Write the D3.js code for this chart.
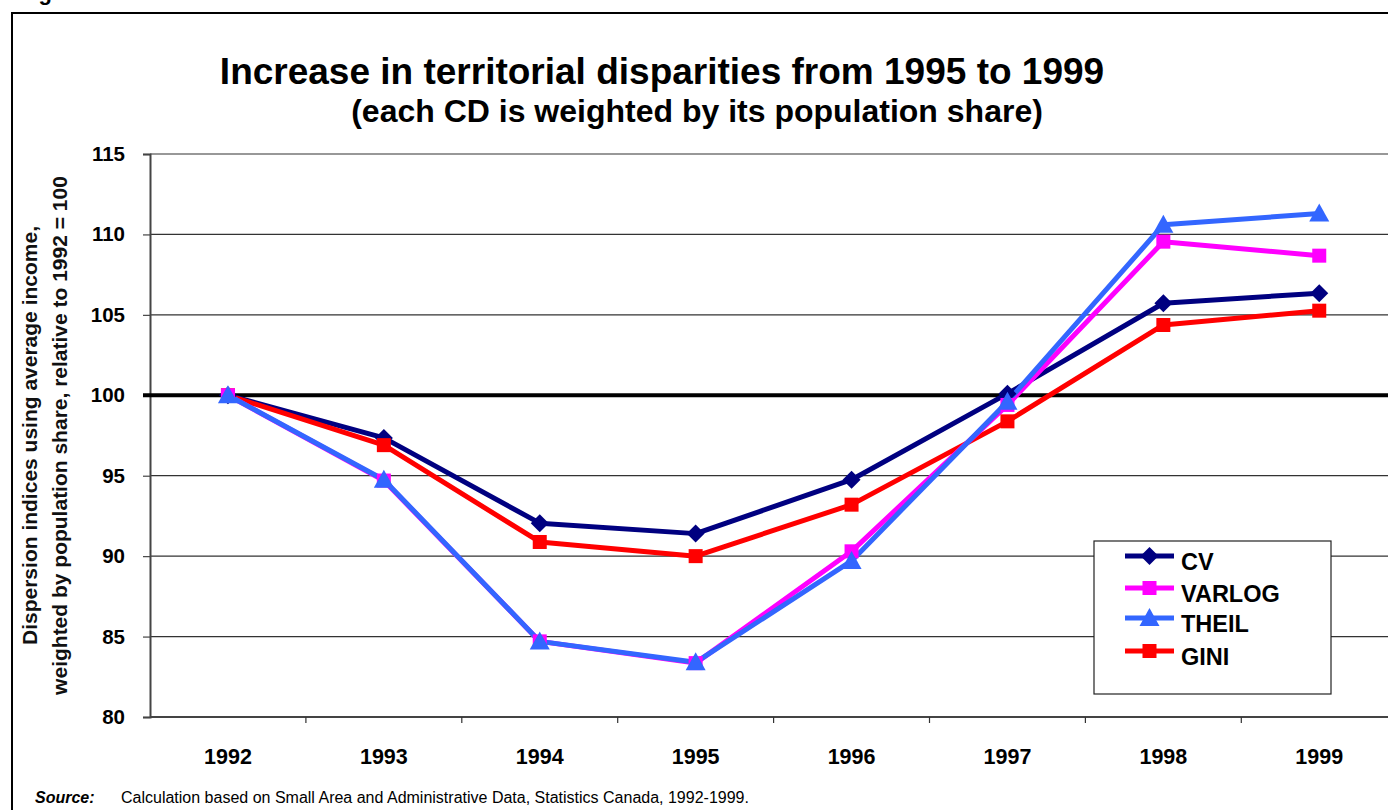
<!DOCTYPE html>
<html><head><meta charset="utf-8">
<script src="https://cdn.jsdelivr.net/npm/d3@7"></script>
<style>body{margin:0;background:#fff}svg{display:block;font-family:"Liberation Sans",Arial,sans-serif}</style>
</head><body>
<svg id="c" width="1388" height="810"></svg>
<script>
const years = ["1992","1993","1994","1995","1996","1997","1998","1999"];
const cv     = [100, 97.35, 92.05, 91.4, 94.75, 100.1, 105.72, 106.35];
const varlog = [100, 94.7, 84.7, 83.35, 90.3, 99.4, 109.55, 108.68];
const theil  = [100, 94.75, 84.7, 83.4, 89.7, 99.6, 110.6, 111.3];
const gini   = [100, 96.9, 90.88, 90.0, 93.2, 98.38, 104.37, 105.26];
const yTicks = [80, 85, 90, 95, 100, 105, 110, 115];
const seriesNames = ["CV","VARLOG","THEIL","GINI"];

const series = [
  {name:"CV", values:cv, color:"#000080", shape:"diamond"},
  {name:"VARLOG", values:varlog, color:"#FF00FF", shape:"square"},
  {name:"THEIL", values:theil, color:"#3366FF", shape:"triangle"},
  {name:"GINI", values:gini, color:"#FF0000", shape:"square"}
];

const svg = d3.select("#c");
const L = 150, T = 154, B = 717, R = 150 + 8*155.9;
const x = d3.scaleBand().domain(years).range([L, R]);
const y = d3.scaleLinear().domain([80, 115]).range([B, T]);

// outer frame
svg.append("path").attr("d","M12,830 V13 H1400").attr("fill","none").attr("stroke","#000").attr("stroke-width",2);
svg.append("text").attr("x",19).attr("y",-0.3).attr("font-size",22).attr("font-weight","bold").text("Fig");

// title
svg.append("text").attr("x",662).attr("y",84).attr("text-anchor","middle").attr("font-size",37).attr("font-weight","bold").text("Increase in territorial disparities from 1995 to 1999");
svg.append("text").attr("x",697).attr("y",122).attr("text-anchor","middle").attr("font-size",32).attr("font-weight","bold").text("(each CD is weighted by its population share)");

// gridlines
const g = svg.append("g");
yTicks.filter(v => v!==80 && v!==100).forEach(v=>{
  g.append("line").attr("x1",L).attr("x2",1388).attr("y1",y(v)).attr("y2",y(v)).attr("stroke","#333").attr("stroke-width",1.2);
});

// y axis
const yAxis = d3.axisLeft(y).tickValues(yTicks).tickSize(7).tickPadding(18).tickFormat(d3.format("d"));
const ya = svg.append("g").attr("transform",`translate(${L},0)`).call(yAxis);
ya.select(".domain").attr("stroke","#444").attr("stroke-width",2);
ya.selectAll(".tick line").attr("stroke","#444").attr("stroke-width",1.2);
ya.selectAll("text").attr("font-size",20.5).attr("font-weight","bold").attr("fill","#000").attr("font-family","Liberation Sans, Arial, sans-serif");

// x axis
const xa = svg.append("g").attr("transform",`translate(0,${B})`).call(d3.axisBottom(x).tickSize(0).tickPadding(28));
xa.select(".domain").attr("stroke","#444").attr("stroke-width",2).attr("d",`M${L},0H1388`);
xa.selectAll("text").attr("font-size",21.5).attr("font-weight","bold").attr("fill","#000").attr("font-family","Liberation Sans, Arial, sans-serif").attr("y",47).attr("dy",0);
years.slice(1).forEach(yr=>{
  svg.append("line").attr("x1",x(yr)).attr("x2",x(yr)).attr("y1",B).attr("y2",B+6).attr("stroke","#333").attr("stroke-width",1.2);
});

// 100 baseline
svg.append("line").attr("x1",L-7).attr("x2",1388).attr("y1",y(100)).attr("y2",y(100)).attr("stroke","#000").attr("stroke-width",4);

// y label
const yl = svg.append("text").attr("transform",`translate(0,${(T+B)/2}) rotate(-90)`).attr("text-anchor","middle").attr("font-size",21).attr("font-weight","bold").attr("fill","#111");
yl.append("tspan").attr("x",0).attr("y",37).text("Dispersion indices using average income,");
yl.append("tspan").attr("x",0).attr("y",67).text("weighted by population share, relative to 1992 = 100");

function marker(sel, shape, color, cx, cy, scale=1){
  if(shape==="diamond"){
    const s=9*scale;
    sel.append("path").attr("d",`M${cx},${cy-s}L${cx+s},${cy}L${cx},${cy+s}L${cx-s},${cy}Z`).attr("fill",color);
  } else if(shape==="square"){
    const s=7*scale;
    sel.append("rect").attr("x",cx-s).attr("y",cy-s).attr("width",2*s).attr("height",2*s).attr("fill",color);
  } else {
    const s=10*scale;
    sel.append("path").attr("d",`M${cx},${cy-s}L${cx+s},${cy+s*0.8}L${cx-s},${cy+s*0.8}Z`).attr("fill",color);
  }
}

const line = d3.line().x((d,i)=>x(years[i])+x.bandwidth()/2).y(d=>y(d));
const order = [series[0], series[3], series[1], series[2]];
order.forEach(s=>{
  svg.append("path").datum(s.values).attr("d",line).attr("fill","none").attr("stroke",s.color).attr("stroke-width",5).attr("stroke-linejoin","round");
});
order.forEach(s=>{
  const mg = svg.append("g");
  s.values.forEach((v,i)=>marker(mg,s.shape,s.color,x(years[i])+x.bandwidth()/2,y(v)));
});

// legend
const lg = svg.append("g");
lg.append("rect").attr("x",1094).attr("y",541).attr("width",237).attr("height",153).attr("fill","#fff").attr("stroke","#222").attr("stroke-width",1.2);
const ly = [556, 588, 618, 651];
series.forEach((s,i)=>{
  lg.append("line").attr("x1",1125).attr("x2",1174).attr("y1",ly[i]).attr("y2",ly[i]).attr("stroke",s.color).attr("stroke-width",5);
  marker(lg,s.shape,s.color,1149.5,ly[i]);
  lg.append("text").attr("x",1181).attr("y",ly[i]+14).attr("font-size",23.5).attr("font-weight","bold").text(seriesNames[i]);
});

// source
svg.append("text").attr("x",35).attr("y",803).attr("font-size",16).attr("font-weight","bold").attr("font-style","italic").text("Source:");
svg.append("text").attr("x",121).attr("y",803).attr("font-size",16).text("Calculation based on Small Area and Administrative Data, Statistics Canada, 1992-1999.");
</script>
</body></html>
